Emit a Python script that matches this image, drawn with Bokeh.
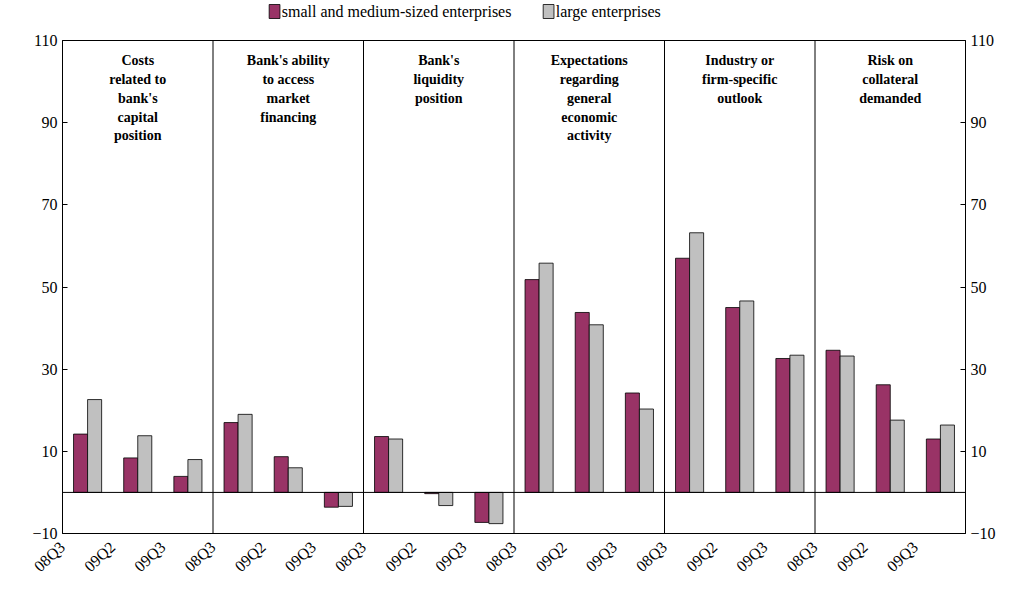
from bokeh.plotting import figure
from bokeh.layouts import column
from bokeh.models import LinearAxis, Range1d, FixedTicker, Span, ColumnDataSource
from bokeh.core.properties import value
from bokeh.embed import file_html
from bokeh.resources import INLINE

panels = ["Costs\nrelated to\nbank's\ncapital\nposition",
          "Bank's ability\nto access\nmarket\nfinancing",
          "Bank's\nliquidity\nposition",
          "Expectations\nregarding\ngeneral\neconomic\nactivity",
          "Industry or\nfirm-specific\noutlook",
          "Risk on\ncollateral\ndemanded"]
periods = ["08Q3", "09Q2", "09Q3"]
sme = [14.2, 8.4, 3.9, 17.0, 8.7, -3.6, 13.6, -0.3, -7.3,
       51.8, 43.8, 24.2, 57.0, 45.0, 32.6, 34.6, 26.2, 13.0]
large = [22.6, 13.8, 8.0, 19.0, 6.0, -3.4, 13.0, -3.2, -7.6,
         55.8, 40.8, 20.3, 63.2, 46.6, 33.4, 33.2, 17.6, 16.4]
series_names = ["small and medium-sized enterprises", "large enterprises"]
series_colors = ["#993366", "#C0C0C0"]

FONT = "Liberation Serif"
n = len(sme)
p = figure(frame_width=903, frame_height=493, x_range=Range1d(0, n), y_range=Range1d(-10, 110),
           output_backend="svg", toolbar_location=None,
           min_border_left=62, min_border_right=40, min_border_top=10, min_border_bottom=58)
p.outline_line_color = "black"
p.xgrid.visible = False
p.ygrid.visible = False

xs = [i + 0.36 for i in range(n)]
xl = [i + 0.64 for i in range(n)]
p.vbar(x=xs, top=sme, bottom=0, width=0.28, fill_color=series_colors[0], line_color="black", line_width=0.8)
p.vbar(x=xl, top=large, bottom=0, width=0.28, fill_color=series_colors[1], line_color="black", line_width=0.8)

p.add_layout(Span(location=0, dimension="width", line_color="black", line_width=1))
for k in range(1, len(panels)):
    p.add_layout(Span(location=3 * k, dimension="height", line_color="black", line_width=1))

tx, ty, tt = [], [], []
for k, name in enumerate(panels):
    for j, line in enumerate(name.split("\n")):
        tx.append(3 * k + 1.5)
        ty.append(107 - 4.6 * j)
        tt.append(line)
src = ColumnDataSource(dict(x=tx, y=ty, t=tt))
p.text(x="x", y="y", text="t", source=src, text_align="center", text_baseline="top",
       text_font=value(FONT), text_font_style="bold", text_font_size="14px")

yt = [-10, 10, 30, 50, 70, 90, 110]
p.yaxis.ticker = FixedTicker(ticks=yt)
right = LinearAxis(ticker=FixedTicker(ticks=yt))
p.add_layout(right, "right")
p.xaxis.ticker = FixedTicker(ticks=list(range(n)))
p.xaxis.major_label_overrides = {i: periods[i % 3] for i in range(n)}
p.xaxis.major_label_orientation = 0.75
p.xaxis.major_tick_line_color = None
p.xaxis.axis_line_color = None
for ax in [p.yaxis[0], right, p.xaxis[0]]:
    ax.major_label_text_font = FONT
    ax.major_label_text_font_size = "16px"
    ax.major_label_text_color = "black"
    ax.minor_tick_line_color = None
for ax in [p.yaxis[0], right]:
    ax.major_tick_in = 5
    ax.major_tick_out = 0

# legend strip drawn as its own small figure, in pixel units
lg = figure(width=1005, height=30, x_range=Range1d(0, 1005), y_range=Range1d(0, 30),
            output_backend="svg", toolbar_location=None, min_border=0)
lg.axis.visible = False
lg.grid.visible = False
lg.outline_line_color = None
lx = [230, 535]
lg.rect(x=[v + 6 for v in lx], y=[19, 19], width=12, height=14, fill_color=series_colors,
        line_color="black", line_width=0.8)
lg.text(x=[v + 14 for v in lx], y=[19, 19], text=series_names, text_baseline="middle",
        text_font=value(FONT), text_font_size="16px", text_color="black")

open("out.html", "w").write(file_html(column(lg, p, spacing=0), INLINE))
